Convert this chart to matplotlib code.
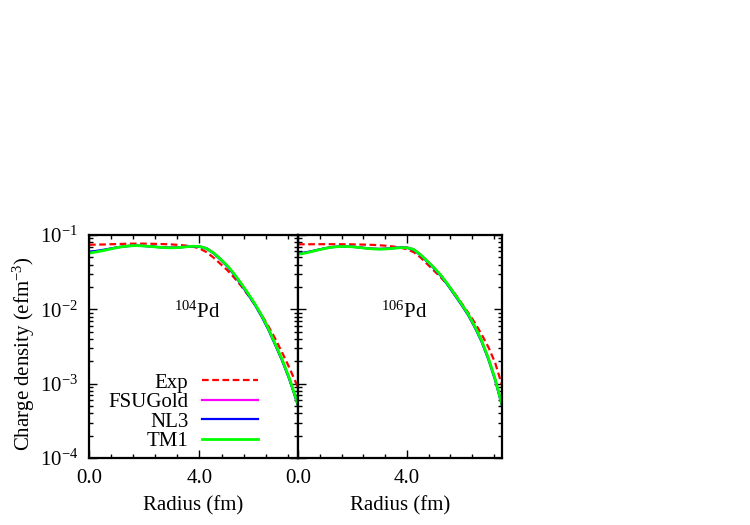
import matplotlib.pyplot as plt
import numpy as np
from matplotlib.ticker import MultipleLocator, LogLocator, NullFormatter

plt.rcParams['font.family'] = ['Liberation Serif', 'DejaVu Serif']
plt.rcParams['mathtext.fontset'] = 'custom'
plt.rcParams['mathtext.rm'] = 'Liberation Serif'
plt.rcParams['mathtext.default'] = 'regular'
plt.rcParams['font.size'] = 15

# radius grid (fm)
radius = [0.0, 0.25, 0.5, 0.75, 1.0, 1.25, 1.5, 1.75, 2.0, 2.25, 2.5, 2.75,
          3.0, 3.25, 3.5, 3.75, 4.0, 4.25, 4.5, 4.75, 5.0, 5.25, 5.5, 5.75,
          6.0, 6.25, 6.5, 6.75, 7.0, 7.25, 7.5, 7.75]

# 104Pd charge densities
pd104_exp = [0.0740, 0.0742, 0.0745, 0.0750, 0.0755, 0.0760, 0.0764, 0.0765,
             0.0765, 0.0762, 0.0758, 0.0753, 0.0746, 0.0736, 0.0722, 0.0700,
             0.0660, 0.0590, 0.0500, 0.0412, 0.0339, 0.0269, 0.0209, 0.0158,
             0.0117, 0.0085, 0.0059, 0.0040, 0.0026, 0.00166, 0.00102, 0.00060]
pd104_fsu = [0.0575, 0.0595, 0.0620, 0.0650, 0.0680, 0.0704, 0.0720, 0.0724,
             0.0716, 0.0704, 0.0690, 0.0680, 0.0676, 0.0683, 0.0696, 0.0708,
             0.0708, 0.0668, 0.0585, 0.0482, 0.0390, 0.0302, 0.0226, 0.0165,
             0.0119, 0.0082, 0.0054, 0.00334, 0.00205, 0.00118, 0.00062, 0.00031]
pd104_nl3 = [0.0595, 0.0610, 0.0630, 0.0655, 0.0680, 0.0700, 0.0712, 0.0716,
             0.0710, 0.0700, 0.0688, 0.0678, 0.0674, 0.0680, 0.0692, 0.0702,
             0.0695, 0.0655, 0.0570, 0.0470, 0.0380, 0.0293, 0.0219, 0.0160,
             0.0116, 0.0080, 0.0053, 0.00328, 0.00202, 0.00116, 0.00061, 0.00031]
pd104_tm1 = [0.0570, 0.0590, 0.0615, 0.0645, 0.0675, 0.0700, 0.0716, 0.0720,
             0.0712, 0.0700, 0.0686, 0.0676, 0.0672, 0.0678, 0.0692, 0.0705,
             0.0702, 0.0660, 0.0580, 0.0480, 0.0390, 0.0302, 0.0226, 0.0166,
             0.0120, 0.00832, 0.00550, 0.00339, 0.00209, 0.00120, 0.00063, 0.00032]

# 106Pd charge densities
pd106_exp = [0.0750, 0.0750, 0.0751, 0.0752, 0.0752, 0.0752, 0.0751, 0.0750,
             0.0748, 0.0745, 0.0741, 0.0736, 0.0728, 0.0716, 0.0700, 0.0675,
             0.0645, 0.0589, 0.0501, 0.0407, 0.0331, 0.0269, 0.0214, 0.0166,
             0.0123, 0.0091, 0.0066, 0.0046, 0.0031, 0.0019, 0.00095, 0.00050]
pd106_fsu = [0.0555, 0.0575, 0.0602, 0.0634, 0.0664, 0.0690, 0.0703, 0.0705,
             0.0699, 0.0685, 0.0667, 0.0655, 0.0650, 0.0656, 0.0668, 0.0682,
             0.0683, 0.0645, 0.0550, 0.0450, 0.0365, 0.0289, 0.0220, 0.0163,
             0.0120, 0.0087, 0.0059, 0.0038, 0.00219, 0.00115, 0.00052, 0.00024]
pd106_nl3 = [0.0565, 0.0582, 0.0605, 0.0635, 0.0663, 0.0686, 0.0697, 0.0699,
             0.0693, 0.0680, 0.0664, 0.0652, 0.0648, 0.0653, 0.0665, 0.0677,
             0.0672, 0.0630, 0.0535, 0.0438, 0.0355, 0.0281, 0.0213, 0.0157,
             0.0116, 0.0084, 0.0057, 0.00366, 0.00211, 0.00111, 0.00050, 0.00023]
pd106_tm1 = [0.0550, 0.0570, 0.0598, 0.0630, 0.0660, 0.0685, 0.0698, 0.0700,
             0.0694, 0.0680, 0.0662, 0.0650, 0.0645, 0.0650, 0.0662, 0.0675,
             0.0675, 0.0640, 0.0545, 0.0447, 0.0363, 0.0288, 0.0219, 0.0162,
             0.0120, 0.0087, 0.0059, 0.0038, 0.00219, 0.00115, 0.00052, 0.00024]

labels = ['Exp', 'FSUGold', 'NL3', 'TM1']
nuclei = ['$^{104}$Pd', '$^{106}$Pd']
panels = [[pd104_exp, pd104_fsu, pd104_nl3, pd104_tm1],
          [pd106_exp, pd106_fsu, pd106_nl3, pd106_tm1]]
xmax = [7.57, 7.5]

fig = plt.figure(figsize=(7.5, 5.25), dpi=100)
ax1 = fig.add_axes([89/750, 1 - 458/525, 209/750, 223/525])
ax2 = fig.add_axes([298/750, 1 - 458/525, 204/750, 223/525])
axes = [ax1, ax2]

for i, ax in enumerate(axes):
    exp, fsu, nl3, tm1 = panels[i]
    ax.plot(radius, exp, color='#ff0000', lw=1.6, ls=(0, (3, 1.6)), label=labels[0])
    ax.plot(radius, fsu, color='#ff00ff', lw=1.6, label=labels[1])
    ax.plot(radius, nl3, color='#0000ff', lw=1.6, label=labels[2])
    ax.plot(radius, tm1, color='#00ff00', lw=2.0, label=labels[3])

    ax.set_yscale('log')
    ax.set_ylim(1e-4, 1e-1)
    ax.set_xlim(0, xmax[i])
    ax.set_xticks([0, 4], ['0.0', '4.0'])
    ax.xaxis.set_minor_locator(MultipleLocator(0.8))
    ax.yaxis.set_minor_locator(LogLocator(base=10, subs=np.arange(2, 10)))
    ax.yaxis.set_minor_formatter(NullFormatter())
    ax.tick_params(which='both', direction='in', top=True, right=True, width=1)
    ax.tick_params(which='major', length=6, pad=8)
    ax.tick_params(which='minor', length=3)
    for s in ax.spines.values():
        s.set_linewidth(1.6)
    ax.set_xlabel('Radius (fm)', labelpad=6)
    ax.text(0.52, 0.628, nuclei[i], transform=ax.transAxes, ha='center', va='baseline')

ax1.set_ylabel('Charge density (efm$^{-3}$)')
ax1.yaxis.set_label_coords(-0.247, 0.47)
ax2.tick_params(labelleft=False)

ax1.legend(loc='lower right', bbox_to_anchor=(0.81, 0.03), frameon=False,
           markerfirst=False, handlelength=2.7, handletextpad=0.65,
           labelspacing=0.0, borderpad=0, borderaxespad=0)

fig.savefig('out.png', dpi=100)
